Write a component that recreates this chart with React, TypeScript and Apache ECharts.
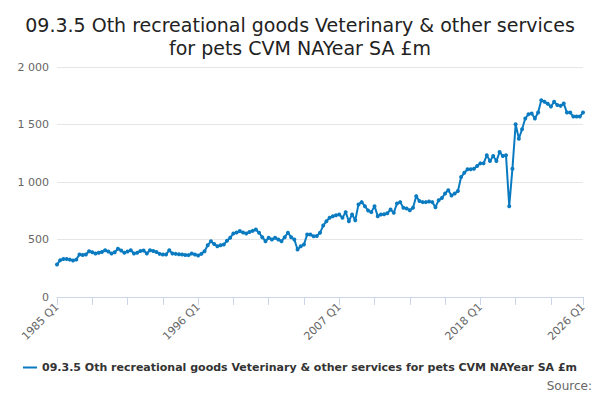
import * as echarts from "echarts";
import { useEffect, useRef } from "react";

const seriesName = "09.3.5 Oth recreational goods Veterinary & other services for pets CVM NAYear SA £m";
const startYear = 1985;
const values = [
  282, 320, 331, 330, 325, 318, 325, 369, 365, 369, 398, 390, 378, 385, 392, 407,
  395, 378, 390, 420, 405, 384, 395, 407, 378, 385, 400, 404, 378, 407, 400, 392,
  375, 369, 369, 407, 378, 375, 372, 369, 366, 364, 378, 370, 360, 375, 398, 450,
  485, 460, 442, 450, 456, 490, 515, 553, 560, 573, 560, 553, 565, 575, 587, 559,
  520, 485, 515, 500, 515, 500, 485, 520, 559, 520, 500, 413, 441, 456, 543, 544,
  528, 530, 558, 621, 659, 690, 703, 710, 718, 689, 738, 659, 718, 668, 805, 825,
  790, 752, 738, 790, 703, 718, 720, 728, 761, 732, 813, 825, 776, 770, 755, 776,
  877, 834, 825, 825, 830, 825, 781, 842, 860, 900, 929, 883, 900, 921, 1043, 1080,
  1110, 1110, 1116, 1140, 1162, 1162, 1232, 1182, 1226, 1182, 1261, 1226, 1232, 790, 1116, 1502,
  1377, 1459, 1552, 1589, 1595, 1552, 1604, 1711, 1697, 1680, 1656, 1697, 1670, 1662, 1682, 1604,
  1604, 1569, 1569, 1569, 1604,
];
const categories = values.map((_, i) => `${startYear + Math.floor(i / 4)} Q${(i % 4) + 1}`);

export default () => {
  const chartRef = useRef<HTMLDivElement>(null);
  useEffect(() => {
    if (!chartRef.current) return;
    const chart = echarts.init(chartRef.current, null, { renderer: "svg" });
    const last = values.length - 1;
    chart.setOption({
      animation: false,
      textStyle: { fontFamily: "DejaVu Sans" },
      title: {
        text: "09.3.5 Oth recreational goods Veterinary & other services\nfor pets CVM NAYear SA £m",
        left: "center",
        top: 0,
        textStyle: { fontSize: 19, fontWeight: "normal", color: "#222", lineHeight: 23 },
      },
      grid: { left: 49, right: 9, top: 59, bottom: 95 },
      xAxis: {
        type: "category",
        data: categories,
        boundaryGap: false,
        axisLine: { lineStyle: { color: "#ccd6eb" } },
        axisTick: { interval: (i: number) => i % 11 === 0 || i === last, length: 8, lineStyle: { color: "#ccd6eb" } },
        axisLabel: {
          interval: (i: number) => i % 44 === 0 || i === last,
          rotate: 45,
          color: "#666",
          fontSize: 11,
        },
      },
      yAxis: {
        type: "value",
        min: 0,
        max: 2000,
        interval: 500,
        axisLabel: { color: "#666", fontSize: 11, formatter: (v: number) => (v >= 1000 ? `${Math.floor(v / 1000)} ${String(v % 1000).padStart(3, "0")}` : `${v}`) },
        splitLine: { lineStyle: { color: "#e6e6e6" } },
      },
      legend: {
        bottom: 14,
        left: "center",
        itemWidth: 14,
        itemHeight: 2,
        itemGap: 4,
        icon: "rect",
        textStyle: { fontSize: 11, fontWeight: "bold", color: "#333" },
      },
      graphic: [
        { type: "text", right: 0, bottom: 0, style: { text: "Source:", fontSize: 12, fill: "#666", fontFamily: "DejaVu Sans" } },
      ],
      series: [
        {
          name: seriesName,
          type: "line",
          data: values,
          color: "#0b7bc1",
          symbol: "circle",
          showSymbol: true,
          showAllSymbol: true,
          symbolSize: 4,
          lineStyle: { width: 2 },
        },
      ],
    });
    return () => chart.dispose();
  }, []);
  return <div ref={chartRef} style={{ width: 584, height: 384 }}></div>;
};
